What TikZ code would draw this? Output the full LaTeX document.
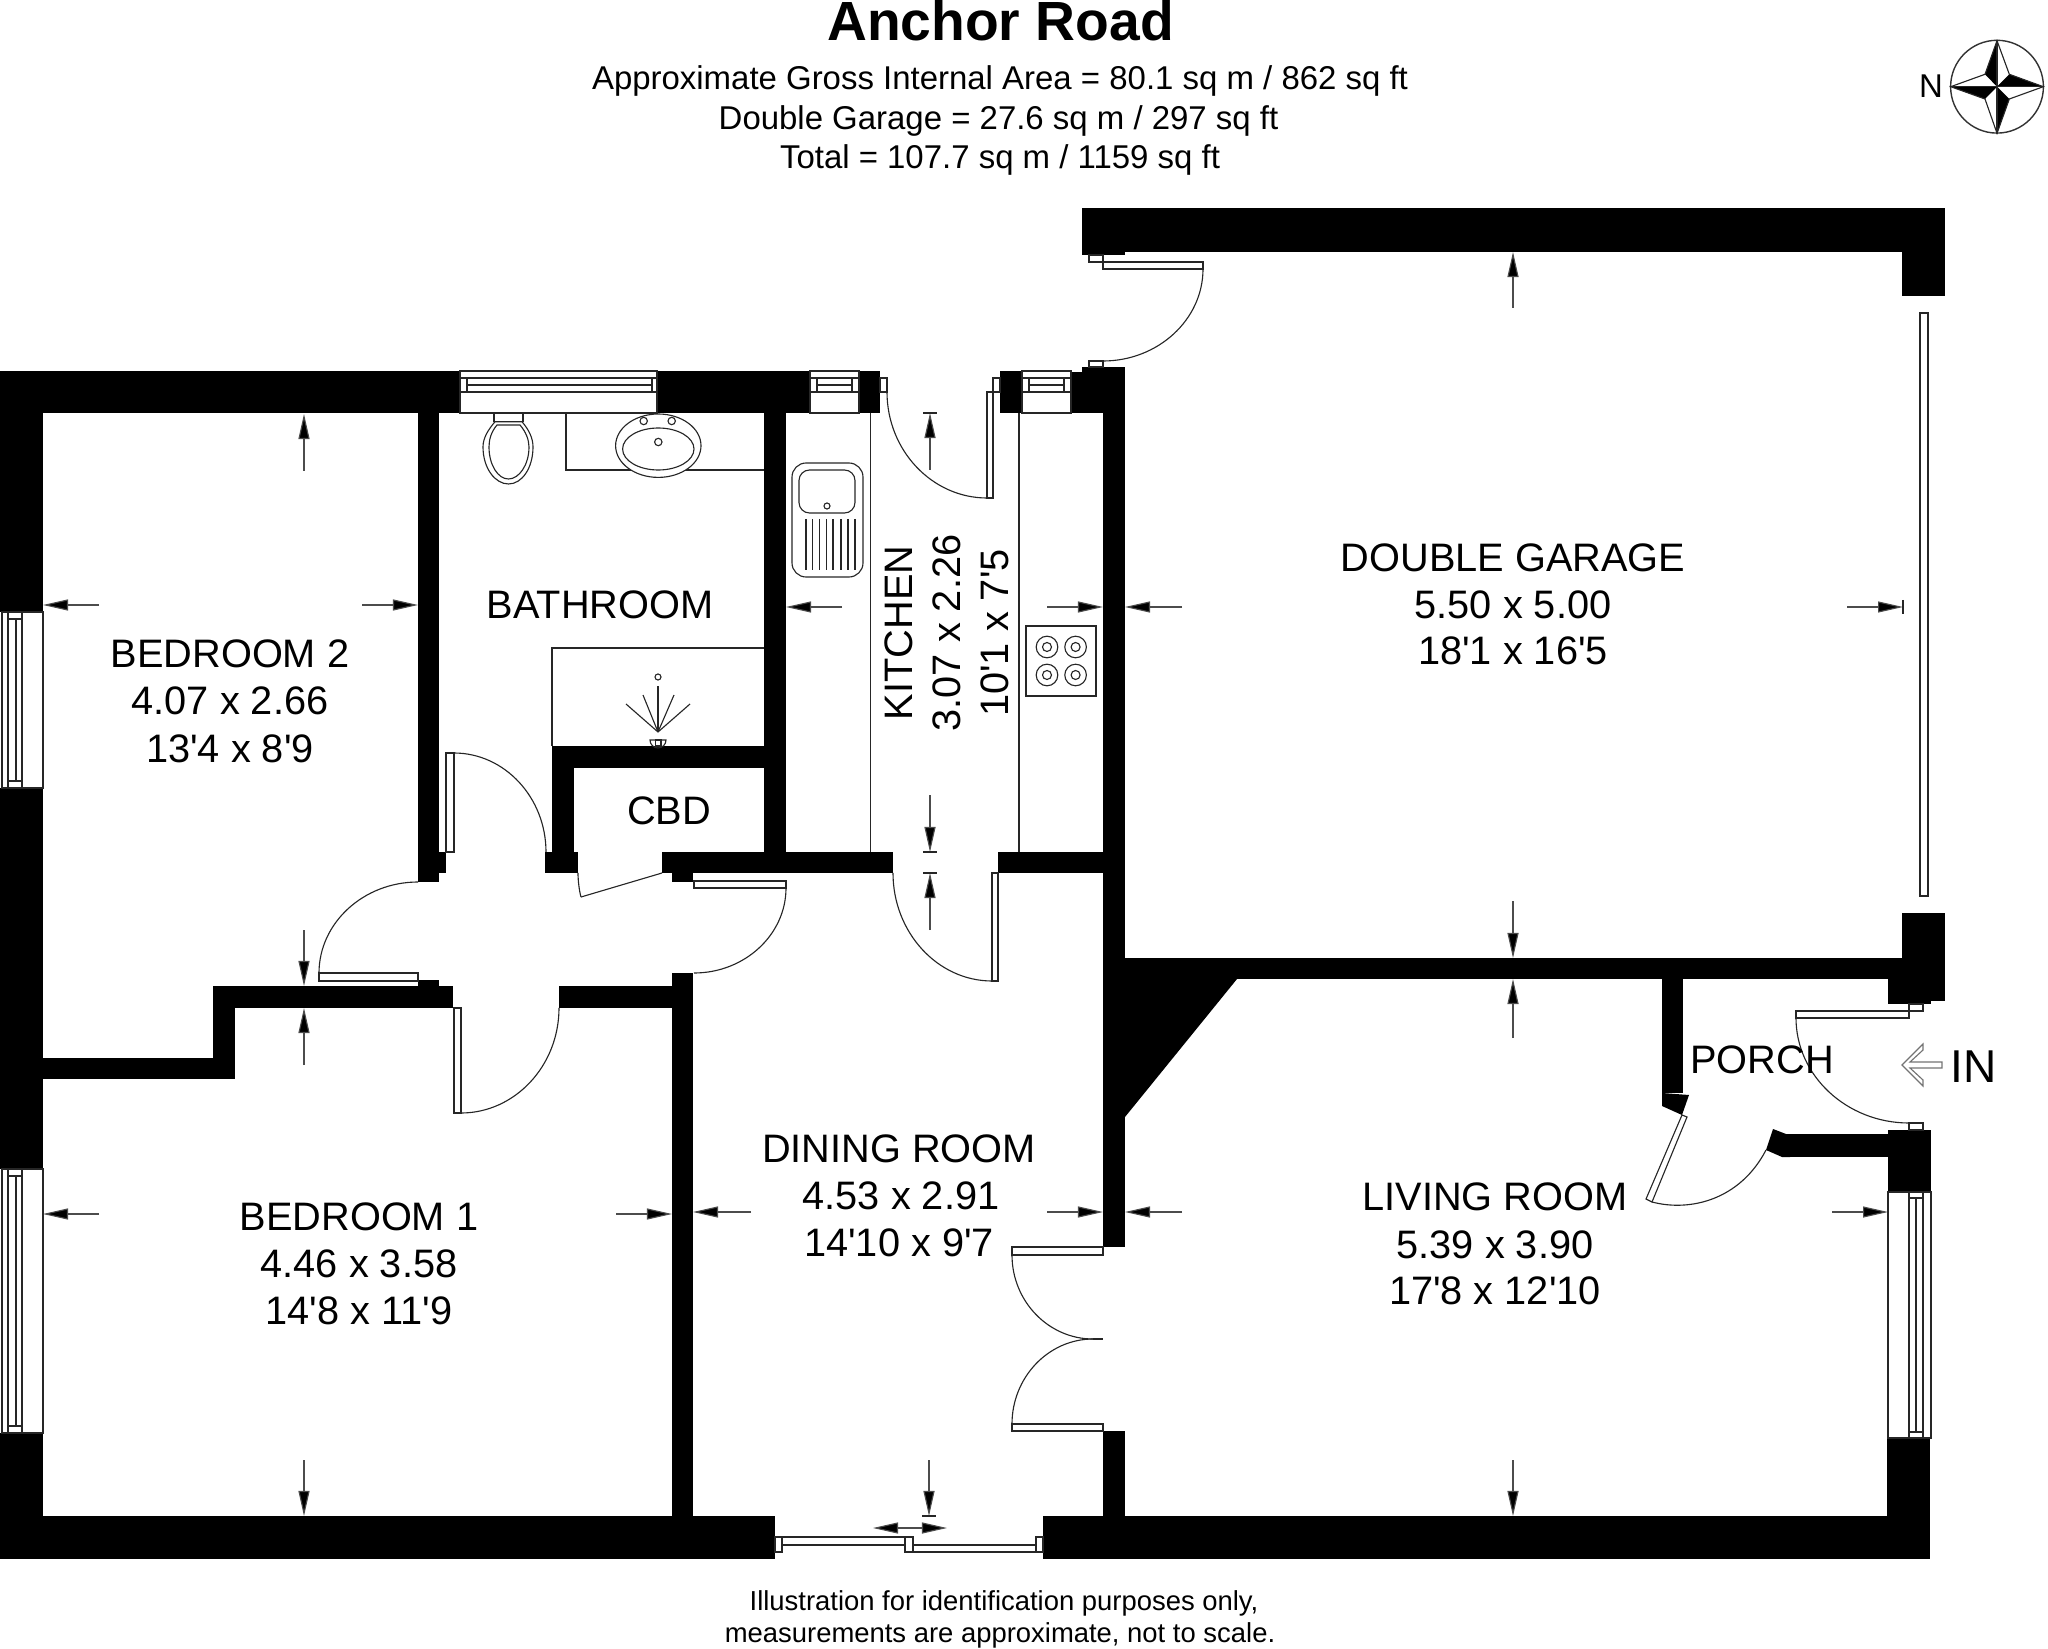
\documentclass[tikz,border=0pt]{standalone}
\usepackage{fontspec}
\setmainfont{Liberation Sans}
\newfontfamily\plainf{Liberation Sans}
\usetikzlibrary{arrows.meta,calc}
\tikzset{
  wall/.style={fill=black},
  plan/.style={draw=black!85,line width=0.32pt},
  leaf/.style={draw=black!85,line width=0.32pt,fill=white},
  dimline/.style={draw=black!70,line width=0.32pt,-{Triangle[length=.25cm,width=.11cm,fill=black]}},
  tick/.style={draw=black!85,line width=0.32pt},
  room/.style={anchor=base,inner sep=0pt,font=\plainf\fontsize{11.3}{13}\selectfont},
  head/.style={anchor=base,inner sep=0pt,font=\fontsize{9.37}{11}\selectfont},
  small/.style={anchor=base,inner sep=0pt,font=\fontsize{7.8}{9}\selectfont},
}
\newcommand{\swing}[6]{\draw[plan] (#1,#2) .. controls ($(#1,#2)!.55!(#5,#6)$) and ($(#3,#4)!.55!(#5,#6)$) .. (#3,#4);}
\begin{document}
\begin{tikzpicture}[x=0.01cm,y=-0.01cm]
\useasboundingbox (0,0) rectangle (2048,1649);
% walls
\foreach \a/\b/\c/\d in {
 0/371/460/413, 657/371/810/413, 859/371/880/413, 1000/371/1022/413, 1071/372/1125/413, 1082/367/1125/372,
 0/413/43/612, 0/788/43/1169, 0/1433/43/1516,
 0/1516/775/1559, 1043/1516/1930/1559,
 43/1058/235/1079, 213/986/235/1079, 213/986/453/1008, 418/980/439/986, 559/986/693/1008, 672/973/693/1516,
 418/413/439/882, 418/852/446/873,
 764/413/786/852, 552/746/786/768, 552/768/574/852, 545/852/578/873,
 662/852/893/873, 998/852/1125/873, 672/873/693/882,
 1103/413/1125/1247, 1103/1431/1125/1516,
 1082/208/1945/252, 1082/252/1125/255, 1902/252/1945/296, 1902/913/1945/958,
 1103/958/1945/979, 1888/979/1945/1001, 1888/1001/1931/1004,
 1662/979/1683/1093, 1786/1134/1888/1157,
 1888/1130/1931/1192, 1887/1438/1930/1516}
 {\fill[wall] (\a,\b) rectangle (\c,\d);}
\fill[wall] (1103,979) -- (1237,979) -- (1125,1117) -- (1103,1117) -- cycle;
\fill[wall] (1662,1093) -- (1689,1095) -- (1682,1115) -- (1662,1106) -- cycle;
\fill[wall] (1773,1129) -- (1786,1134) -- (1790,1157) -- (1782,1157) -- (1766,1150) -- cycle;
% bathroom window
\draw[plan] (460,371) rectangle (657,413);
\draw[plan] (460,378) -- (657,378) (460,392) -- (657,392);
\draw[plan] (467,378) -- (467,392) (652,378) -- (652,392) (467,385) -- (652,385);
% small windows
\foreach \x in {810,1022}{
  \draw[plan] (\x,371) rectangle ++(49,42);
  \draw[plan] (\x,392) -- ++(49,0);
  \draw[plan] (\x+7,378) rectangle ++(35,14);
  \draw[plan] (\x+7,385) -- ++(35,0);
  \draw[plan] (\x,378) -- ++(49,0);
}
% left windows
\foreach \t/\bb in {612/788,1169/1433}{
  \draw[plan] (2,\t) rectangle (43,\bb);
  \draw[plan] (8,\t) -- (8,\bb) (22,\t) -- (22,\bb);
  \draw[plan] (8,\t+7) -- (22,\t+7) (8,\bb-7) -- (22,\bb-7);
  \draw[plan] (16,\t+7) -- (16,\bb-7);
}
% living room window
\draw[plan] (1888,1192) rectangle (1931,1438);
\draw[plan] (1909,1192) -- (1909,1438) (1923,1192) -- (1923,1438);
\draw[plan] (1909,1198) -- (1923,1198) (1909,1432) -- (1923,1432) (1916,1198) -- (1916,1432);
% garage sliding door
\draw[plan] (1920,313) rectangle (1928,896);
% garden sliding door
\draw[leaf] (775,1537) rectangle (782,1552);
\draw[leaf] (782,1537) rectangle (905,1545);
\draw[leaf] (905,1537) rectangle (913,1552);
\draw[leaf] (913,1545) rectangle (1036,1552);
\draw[leaf] (1036,1537) rectangle (1043,1552);
% garage door
\draw[plan] (1089,255) rectangle (1103,262);
\draw[plan] (1103,262) rectangle (1203,269);
\swing{1203}{269}{1103}{361}{1203}{361}
\draw[plan] (1089,361) rectangle (1103,367);
% kitchen back door
\draw[plan] (880,378) rectangle (887,392);
\draw[plan] (993,378) rectangle (1000,392);
\draw[plan] (987,392) rectangle (993,498);
\swing{887}{392}{987}{498}{887}{498}
% hall doors
\draw[plan] (446,753) rectangle (454,852);
\swing{454}{753}{546}{852}{546}{753}
\draw[plan] (319,973) rectangle (418,981);
\swing{319}{973}{418}{882}{319}{882}
\draw[plan] (454,1008) rectangle (461,1113);
\swing{461}{1113}{559}{1008}{559}{1113}
\draw[plan] (694,881) rectangle (786,888);
\swing{786}{888}{694}{973}{786}{973}
\swing{578}{873}{581}{897}{578}{887}
\draw[plan] (581,897) -- (662,873);
\draw[plan] (992,873) rectangle (998,981);
\swing{893}{873}{992}{981}{893}{981}
% double doors
\draw[plan] (1012,1247) rectangle (1103,1255);
\draw[plan] (1012,1424) rectangle (1103,1431);
\swing{1012}{1255}{1093}{1339}{1012}{1339}
\swing{1012}{1424}{1093}{1339}{1012}{1339}
\draw[plan] (1093,1339) -- (1103,1339);
% entrance door
\draw[plan] (1909,1004) rectangle (1923,1011);
\draw[plan] (1796,1011) rectangle (1909,1018);
\swing{1796}{1018}{1909}{1123}{1796}{1123}
\draw[plan] (1909,1123) rectangle (1923,1130);
% porch inner door
\draw[plan] (1682,1115) -- (1687,1117) -- (1652,1202) -- (1646,1199) -- cycle;
\draw[plan] (1652,1202) .. controls (1690,1212) and (1740,1200) .. (1766,1150);
% toilet
\draw[plan] (494,413) rectangle (523,421.7);
\draw[plan] (495,421.7) -- (522,421.7) .. controls (529,430) and (533,438) .. (533,447) .. controls (533,468) and (522,484) .. (508.5,484) .. controls (495,484) and (483,468) .. (483,447) .. controls (483,438) and (488,430) .. (495,421.7) -- cycle;
\draw[plan] (497,425) -- (520,425) .. controls (526,432) and (529,440) .. (529,447) .. controls (529,465) and (519,479) .. (508.5,479) .. controls (498,479) and (489,465) .. (489,447) .. controls (489,440) and (491,432) .. (497,425) -- cycle;
% basin
\draw[plan] (566,413) -- (566,470) -- (764,470);
\draw[plan,fill=white] (658.3,445.7) ellipse [x radius=42.7,y radius=31.7];
\draw[plan] (658.3,449) ellipse [x radius=35.7,y radius=21];
\draw[plan] (658.3,442) circle [radius=3.7];
\draw[plan] (643.7,421) circle [radius=3.7];
\draw[plan] (671.7,421) circle [radius=3.7];
% shower
\draw[plan] (552,746) -- (552,648) -- (764,648);
\draw[plan] (658,677) circle [radius=3];
\foreach \px/\py in {658/686,643/695,674/695,626/704,690/704}{\draw[plan] (658,732) -- (\px,\py);}
\draw[plan] (650,740) arc [start angle=180,end angle=0,radius=8] -- cycle;
\draw[plan] (655.5,740) rectangle (661,746);
% sink
\draw[plan,rounded corners=4] (792,463) rectangle (863,577);
\draw[plan,rounded corners=3] (799,470) rectangle (855,513);
\draw[plan] (827,506) circle [radius=3];
\foreach \x in {806,812.6,819.5,826.3,833,841,848,855}{\draw[plan] (\x,519) -- (\x,570);}
\draw[plan] (870.4,413) -- (870.4,852) (1019,413) -- (1019,852);
% hob
\draw[plan] (1026,626) rectangle (1096,696);
\foreach \x in {1047,1075.6}\foreach \y in {647,675}{
 \draw[plan] (\x,\y) circle [radius=10.8];
 \draw[plan] (\x,\y) circle [radius=4.5];
}
% dimension arrows
\foreach \a/\b/\c/\d in {
 304/471/304/414, 99/605/43/605, 362/605/418/605, 304/930/304/986,
 304/1065/304/1008, 99/1214/43/1214, 616/1214/672/1214, 304/1460/304/1516,
 751/1212/693/1212, 1047/1212/1103/1212, 1182/1212/1125/1212, 929/1460/929/1516,
 930/930/930/873, 930/795/930/852, 930/470/930/413,
 842/607/786/607, 1047/607/1103/607, 1182/607/1125/607, 1847/607/1903/607,
 1513/308/1513/252, 1513/901/1513/958, 1513/1038/1513/979, 1513/1460/1513/1516,
 1832/1212/1888/1212}
 {\draw[dimline] (\a,\b) -- (\c,\d);}
\draw[dimline] (910,1528) -- (873,1528);
\draw[dimline] (910,1528) -- (947,1528);
\foreach \x/\y in {923/413,923/852,923/873,922/1516}{\draw[tick] (\x,\y) -- ++(14,0);}
\draw[tick] (1903,600) -- (1903,614);
% IN arrow
\draw[draw=black!55,line width=0.32pt] (1902,1065) -- (1923,1044) -- (1923,1050) -- (1910,1062) -- (1942,1062) -- (1942,1068) -- (1910,1068) -- (1923,1080) -- (1923,1086) -- cycle;
% compass
\draw[draw=black!80,line width=0.4pt] (1997,86.7) circle [radius=46.4];
\fill (1997,40.7) -- (1985,74.3) -- (1997,86.7) -- cycle;
\fill (2043.3,86.7) -- (2009.3,74.3) -- (1997,86.7) -- cycle;
\fill (1997,133.3) -- (2009.3,99) -- (1997,86.7) -- cycle;
\fill (1950.7,86.7) -- (1985,99) -- (1997,86.7) -- cycle;
\draw[plan] (1997,40.7) -- (2009.3,74.3) -- (2043.3,86.7) -- (2009.3,99) -- (1997,133.3) -- (1985,99) -- (1950.7,86.7) -- (1985,74.3) -- cycle;
\draw[plan] (1997,40.7) -- (1997,133.3) (1950.7,86.7) -- (2043.3,86.7);
% texts
\node[anchor=base,inner sep=0pt,font=\fontsize{15.7}{18}\selectfont\bfseries] (title) at (1000.5,41) {Anchor Road};
\node[head] (h1) at (1000,90) {Approximate Gross Internal Area = 80.1 sq m / 862 sq ft};
\node[head] (h2) at (998.5,130) {Double Garage = 27.6 sq m / 297 sq ft};
\node[head] (h3) at (1000,169) {Total = 107.7 sq m / 1159 sq ft};
\node[head] (north) at (1931,98) {N};
\node[anchor=base,inner sep=0pt,font=\fontsize{13.1}{15}\selectfont] (in) at (1974,1082) {IN};
\node[room] (b2a) at (230,667) {BEDROOM 2};
\node[room] (b2b) at (230,715) {4.07 x 2.66};
\node[room] (b2c) at (230,762) {13'4 x 8'9};
\node[room] (bath) at (600,619) {BATHROOM};
\node[room] (cbd) at (669,824) {CBD};
\node[room,rotate=90] (k1) at (912,633) {KITCHEN};
\node[room,rotate=90] (k2) at (960,633) {3.07 x 2.26};
\node[room,rotate=90] (k3) at (1008,633) {10'1 x 7'5};
\node[room] (g1) at (1513,571) {DOUBLE GARAGE};
\node[room] (g2) at (1513,619) {5.50 x 5.00};
\node[room] (g3) at (1513,665) {18'1 x 16'5};
\node[room] (b1a) at (359,1230) {BEDROOM 1};
\node[room] (b1b) at (359,1277) {4.46 x 3.58};
\node[room] (b1c) at (359,1324) {14'8 x 11'9};
\node[room] (d1) at (899,1162) {DINING ROOM};
\node[room] (d2) at (901,1209) {4.53 x 2.91};
\node[room] (d3) at (899,1256) {14'10 x 9'7};
\node[room] (l1) at (1495,1210) {LIVING ROOM};
\node[room] (l2) at (1495,1258) {5.39 x 3.90};
\node[room] (l3) at (1495,1304) {17'8 x 12'10};
\node[room] (porch) at (1762,1073) {PORCH};
\node[small] (f1) at (1004,1610) {Illustration for identification purposes only,};
\node[small] (f2) at (1000,1642) {measurements are approximate, not to scale.};
\end{tikzpicture}
\end{document}
